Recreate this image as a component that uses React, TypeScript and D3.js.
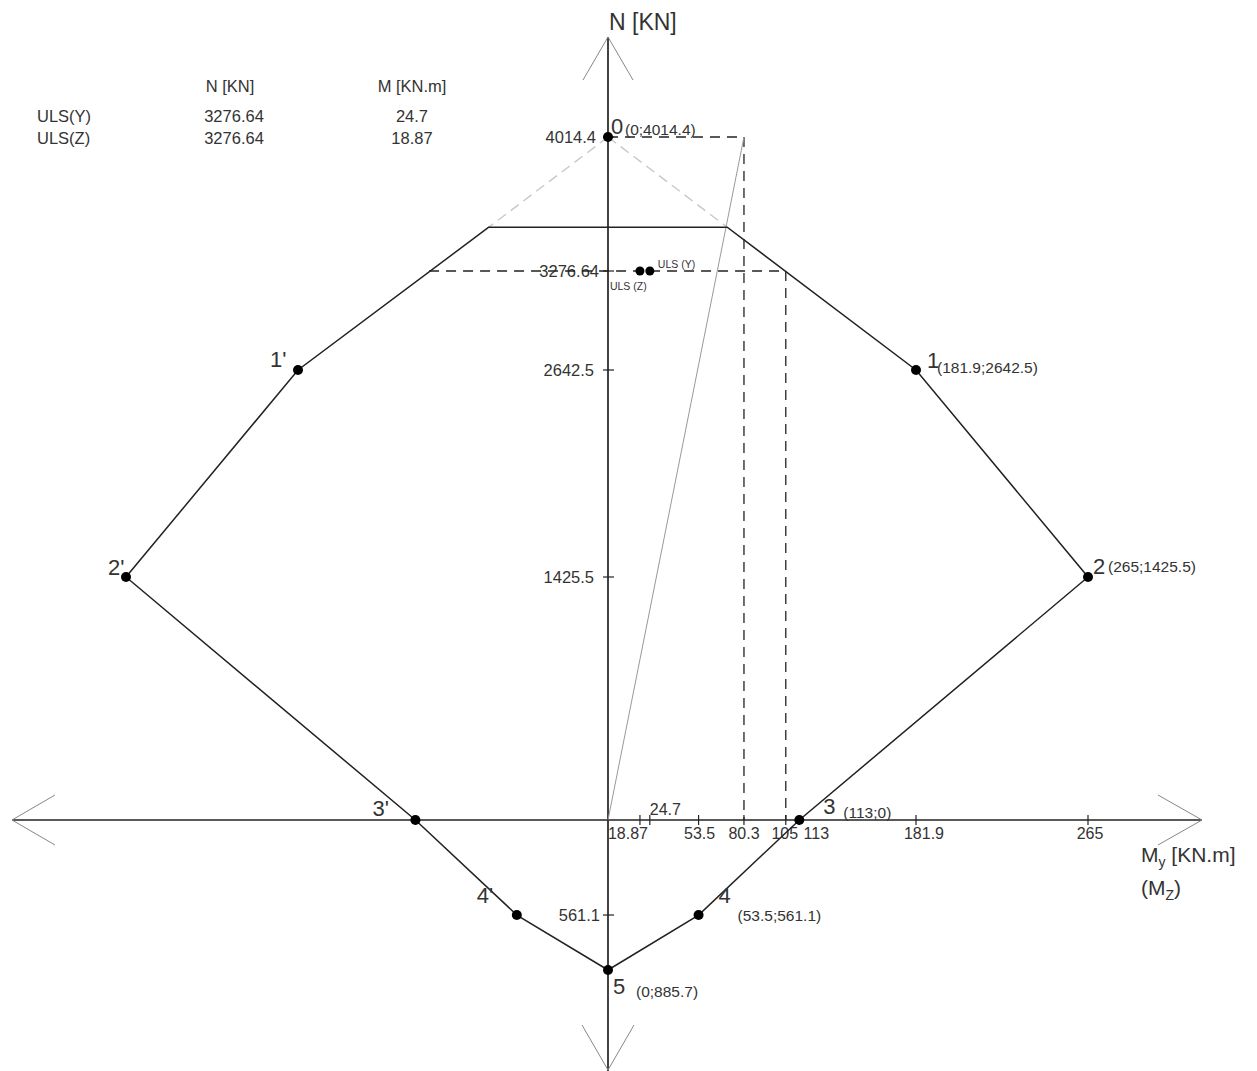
import React from "react";
import * as d3 from "d3";

// Interaction diagram N–M (column section)
const pointNames = ["1", "2", "3", "4", "5"];
const pointM = [181.9, 265, 113, 53.5, 0];
const pointN = [2642.5, 1425.5, 0, -561.1, -885.7];

const apexM = 0;
const apexN = 4014.4;
const capN = 3518;

const ulsNames = ["ULS(Y)", "ULS(Z)"];
const ulsN = [3276.64, 3276.64];
const ulsM = [24.7, 18.87];

const mTicks = [18.87, 24.7, 53.5, 80.3, 105, 113, 181.9, 265];
const nTicks = [4014.4, 3276.64, 2642.5, 1425.5, -561.1];

const apexProjM = 80.3;
const ulsProjM = 105;

const FONT = "'Liberation Sans', Arial, sans-serif";
const INK = "#222";
const TXT = "#333";

export default function App() {
  const W = 1257;
  const H = 1071;

  // the drawing is not to one uniform scale, so the scales are piecewise
  const x = d3
    .scaleLinear()
    .domain([-265, -181.9, 0, 181.9, 265])
    .range([126, 298, 608, 916, 1088]);
  const y = d3
    .scaleLinear()
    .domain([-885.7, 0, 1425.5, 2642.5, 3276.64, 4014.4])
    .range([970, 820, 577, 370, 271, 137]);

  const x0 = x(0);
  const y0 = y(0);

  // cap line cuts the segments apex→1 and apex→1'
  const capY = y(capN);
  const t = (capY - y(apexN)) / (y(pointN[0]) - y(apexN));
  const capDx = t * (x(pointM[0]) - x(apexM));
  const capL: [number, number] = [x0 - capDx, capY];
  const capR: [number, number] = [x0 + capDx, capY];

  const right = pointM.map((m, i) => [x(m), y(pointN[i])] as [number, number]);
  const left = pointM.map((m, i) => [x(-m), y(pointN[i])] as [number, number]);

  const outline: [number, number][] = [
    capL,
    ...left.slice(0, 4),
    right[4],
    ...right.slice(0, 4).reverse(),
    capR,
  ];
  const line = d3.line();
  const outlinePath = line(outline) + "Z";

  const fmt = (v: number) => String(Math.abs(v));

  // label offsets for point numbers and coordinates
  const numOff: [number, number][] = [
    [11, -2],
    [5, -3],
    [24, -6],
    [20, -12],
    [5, 24],
  ];
  const coordOff: [number, number][] = [
    [21, 3],
    [20, -5],
    [44, -2],
    [39, 6],
    [28, 27],
  ];
  const primeOff: [number, number][] = [
    [-28, -3],
    [-18, -2],
    [-43, -4],
    [-40, -12],
  ];

  const xTickLabelPos: Record<string, [number, string, number]> = {
    "18.87": [-12, "middle", 19],
    "24.7": [0, "start", -5],
    "53.5": [1, "middle", 19],
    "80.3": [0, "middle", 19],
    "105": [-1, "middle", 19],
    "113": [17, "middle", 19],
    "181.9": [8, "middle", 19],
    "265": [2, "middle", 19],
  };

  const dash = "10,7";

  return (
    <svg
      width={W}
      height={H}
      style={{ position: "absolute", left: 0, top: 0, background: "#fff" }}
      fontFamily={FONT}
    >
      {/* summary table */}
      <g fill={TXT} fontSize={16.5}>
        <text x={230} y={92} textAnchor="middle">N [KN]</text>
        <text x={412} y={92} textAnchor="middle">M [KN.m]</text>
        {ulsNames.map((name, i) => (
          <g key={name}>
            <text x={37} y={122 + i * 22}>{name}</text>
            <text x={234} y={122 + i * 22} textAnchor="middle">{String(ulsN[i])}</text>
            <text x={412} y={122 + i * 22} textAnchor="middle">{String(ulsM[i])}</text>
          </g>
        ))}
      </g>

      {/* axes */}
      <line x1={12} y1={y0} x2={1202} y2={y0} stroke={INK} strokeWidth={1.7} />
      <line x1={x0} y1={37} x2={x0} y2={H} stroke={INK} strokeWidth={1.7} />
      <g stroke="#888" strokeWidth={1} fill="none">
        <polyline points={`${x0 - 25},80 ${x0},37 ${x0 + 25},80`} />
        <polyline points={`${x0 - 26},1025 ${x0},1070 ${x0 + 26},1025`} />
        <polyline points={`55,${y0 - 25} 12,${y0} 55,${y0 + 25}`} />
        <polyline points={`1158,${y0 - 25} 1202,${y0} 1158,${y0 + 25}`} />
      </g>
      <text x={x0 + 1} y={30} fontSize={23} fill={TXT}>N [KN]</text>
      <text x={1141} y={862} fontSize={21} fill={TXT}>
        M<tspan fontSize={14} dy={5}>y</tspan>
        <tspan dy={-5}> [KN.m]</tspan>
      </text>
      <text x={1141} y={895} fontSize={21} fill={TXT}>
        (M<tspan fontSize={14} dy={5}>Z</tspan>
        <tspan dy={-5}>)</tspan>
      </text>

      {/* M ticks */}
      {mTicks.map((m) => {
        const [dx, anchor, dy] = xTickLabelPos[String(m)];
        return (
          <g key={"mt" + m}>
            <line x1={x(m)} x2={x(m)} y1={y0 - 5} y2={y0 + 5} stroke={INK} strokeWidth={1.2} />
            <text
              x={x(m) + dx}
              y={y0 + dy}
              fontSize={16}
              fill={TXT}
              textAnchor={anchor as any}
            >
              {String(m)}
            </text>
          </g>
        );
      })}

      {/* N ticks */}
      {nTicks.map((n) => (
        <g key={"nt" + n}>
          <line x1={x0 - 5} x2={x0 + 6} y1={y(n)} y2={y(n)} stroke={INK} strokeWidth={1.2} />
          <text
            x={x0 - (n === 4014.4 ? 12 : n === 3276.64 ? 9 : n < 0 ? 8 : 14)}
            y={y(n) + 6}
            fontSize={16.5}
            fill={TXT}
            textAnchor="end"
          >
            {fmt(n)}
          </text>
        </g>
      ))}

      {/* projection lines */}
      <g fill="none" stroke={INK} strokeWidth={1.3} strokeDasharray={dash}>
        <line x1={x0} y1={y(apexN)} x2={x(apexProjM)} y2={y(apexN)} />
        <line x1={x(apexProjM)} y1={y(apexN)} x2={x(apexProjM)} y2={y0} />
        <line x1={x(-ulsProjM)} y1={y(ulsN[0])} x2={x(ulsProjM)} y2={y(ulsN[0])} />
        <line x1={x(ulsProjM)} y1={y(ulsN[0])} x2={x(ulsProjM)} y2={y0} />
      </g>
      <line
        x1={x0}
        y1={y0}
        x2={x(apexProjM)}
        y2={y(apexN)}
        stroke="#999"
        strokeWidth={1}
      />

      {/* extension of the outline up to the apex */}
      <g stroke="#c8c8c8" strokeWidth={1.4} strokeDasharray="10,6" fill="none">
        <line x1={x(apexM)} y1={y(apexN)} x2={capL[0]} y2={capL[1]} />
        <line x1={x(apexM)} y1={y(apexN)} x2={capR[0]} y2={capR[1]} />
      </g>

      {/* interaction outline */}
      <path d={outlinePath} fill="none" stroke={INK} strokeWidth={1.5} />

      {/* apex point */}
      <circle cx={x(apexM)} cy={y(apexN)} r={5} fill="#000" />
      <text x={x(apexM) + 3} y={y(apexN) - 3} fontSize={22} fill={TXT}>0</text>
      <text x={x(apexM) + 17} y={y(apexN) - 2} fontSize={15.5} fill={TXT}>
        ({fmt(apexM)};{fmt(apexN)})
      </text>

      {/* right-hand points */}
      {pointNames.map((name, i) => (
        <g key={"p" + name}>
          <circle cx={right[i][0]} cy={right[i][1]} r={5} fill="#000" />
          <text
            x={right[i][0] + numOff[i][0]}
            y={right[i][1] + numOff[i][1]}
            fontSize={22}
            fill={TXT}
          >
            {name}
          </text>
          <text
            x={right[i][0] + coordOff[i][0]}
            y={right[i][1] + coordOff[i][1]}
            fontSize={15.5}
            fill={TXT}
          >
            ({fmt(pointM[i])};{fmt(pointN[i])})
          </text>
        </g>
      ))}

      {/* mirrored points */}
      {pointNames.slice(0, 4).map((name, i) => (
        <g key={"q" + name}>
          <circle cx={left[i][0]} cy={left[i][1]} r={5} fill="#000" />
          <text
            x={left[i][0] + primeOff[i][0]}
            y={left[i][1] + primeOff[i][1]}
            fontSize={22}
            fill={TXT}
          >
            {name + "'"}
          </text>
        </g>
      ))}

      {/* design load points */}
      {ulsNames.map((name, i) => (
        <circle key={name} cx={x(ulsM[i])} cy={y(ulsN[i])} r={4.5} fill="#000" />
      ))}
      <text x={x(ulsM[0]) + 8} y={y(ulsN[0]) - 3} fontSize={10.5} fill={TXT}>ULS (Y)</text>
      <text x={x(ulsM[1]) - 30} y={y(ulsN[1]) + 19} fontSize={10.5} fill={TXT}>ULS (Z)</text>
    </svg>
  );
}
